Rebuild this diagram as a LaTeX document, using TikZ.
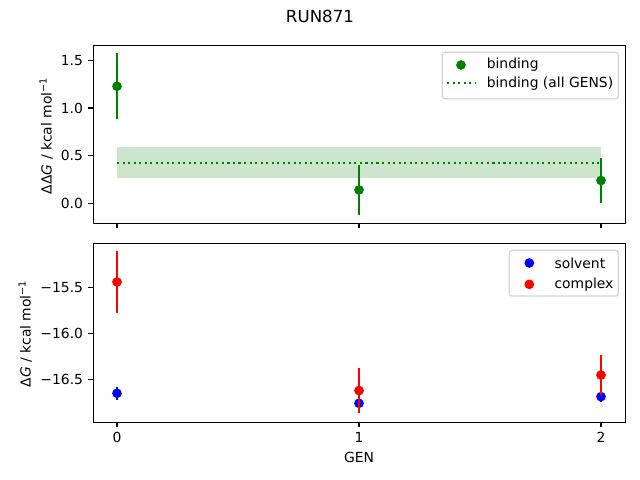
\documentclass[tikz,border=0pt]{standalone}
\usepackage{fontspec}
\setmainfont{DejaVu Sans}
\definecolor{mplgreen}{RGB}{0,128,0}
\definecolor{mplblue}{RGB}{0,0,255}
\definecolor{mplred}{RGB}{255,0,0}
\begin{document}
\begin{tikzpicture}[x=0.72pt,y=-0.72pt]
\def\tick{4.86}
\tikzset{
base/.style={font=\fontsize{10}{12}\selectfont,inner sep=0pt},
ticklab/.style={base,anchor=east},
spine/.style={draw,line width=0.8pt},
err/.style={line width=1.5pt},
dot/.style={circle,fill,inner sep=0pt,minimum size=7pt},
legend/.style={draw=black!20,fill=white,fill opacity=0.8,draw opacity=0.8,rounded corners=2pt,line width=1pt},
legtext/.style={base,anchor=west}}
\useasboundingbox[fill=white] (0,0) rectangle (640,480);
\node[font=\fontsize{12}{14}\selectfont,inner sep=0pt] (title) at (320,16.3) {RUN871};
% upper panel: binding
\begin{scope}[shift={(117,203.3)},xscale=242,yscale=-95.3]
\fill[mplgreen!20] (0,0.262) rectangle (2,0.588);
\draw[mplgreen,line width=1.5pt,dash pattern=on 1.5pt off 2.475pt] (0,0.426) -- (2,0.426);
\foreach \gx/\gy/\ge in {0/1.228/0.346,1/0.14/0.259,2/0.239/0.233}{
\draw[err,mplgreen] (\gx,\gy-\ge) -- (\gx,\gy+\ge);
\node[dot,mplgreen] (b\gx) at (\gx,\gy) {};}
\end{scope}
\draw[spine] (93.3,45.3) rectangle (625.3,223.3);
\foreach \x in {117,359,601} \draw[line width=0.8pt] (\x,223.3) -- ++(0,\tick);
\foreach \v/\t in {203.3/0.0,155.65/0.5,108/1.0,60.35/1.5}{
\draw[line width=0.8pt] (93.3,\v) -- ++(-\tick,0);
\node[ticklab] (ty\t) at (83.2,\v) {\t};}
\node[base,rotate=90] (ylabA) at (46.3,135.8) {ΔΔ\textit{G} / kcal mol\textsuperscript{−1}};
\path[legend] (442.3,52.3) rectangle (618.3,98.7);
\node[dot,mplgreen] (lbind) at (461,65) {};
\draw[mplgreen,line width=1.5pt,dash pattern=on 1.5pt off 2.475pt] (447,83.3) -- (475.2,83.3);
\node[legtext] (tbind) at (486.5,65) {binding};
\node[legtext] (tall) at (486.5,83.3) {binding (all GENS)};
% lower panel: solvent and complex
\begin{scope}[shift={(117,-1133.9)},xscale=242,yscale=-91.7]
\foreach \gx/\gy/\ge in {0/-16.654/0.069,1/-16.763/0.04,2/-16.691/0.061}{
\draw[err,mplblue] (\gx,\gy-\ge) -- (\gx,\gy+\ge);
\node[dot,mplblue] (s\gx) at (\gx,\gy) {};}
\foreach \gx/\gy/\ge in {0/-15.44/0.334,1/-16.624/0.249,2/-16.455/0.218}{
\draw[err,mplred] (\gx,\gy-\ge) -- (\gx,\gy+\ge);
\node[dot,mplred] (c\gx) at (\gx,\gy) {};}
\end{scope}
\draw[spine] (93.3,243.3) rectangle (625.3,422.3);
\foreach \x/\t in {117/0,359/1,601/2}{
\draw[line width=0.8pt] (\x,422.3) -- ++(0,\tick);
\node[base] (tx\t) at (\x,437.5) {\t};}
\foreach \v/\t in {287.45/−15.5,333.3/−16.0,379.15/−16.5}
\draw[line width=0.8pt] (93.3,\v) -- ++(-\tick,0) node[ticklab,xshift=-4.86*0.72pt] {\t};
\node[base,rotate=90] (ylabB) at (25.3,333.7) {Δ\textit{G} / kcal mol\textsuperscript{−1}};
\node[base] (xlab) at (359,457.8) {GEN};
\path[legend] (509.3,250.3) rectangle (618.3,296);
\node[dot,mplblue] (lsolv) at (529.3,263) {};
\node[dot,mplred] (lcomp) at (529.3,284.3) {};
\node[legtext] (tsolv) at (554.3,263) {solvent};
\node[legtext] (tcomp) at (554.3,284.3) {complex};
\end{tikzpicture}
\end{document}
